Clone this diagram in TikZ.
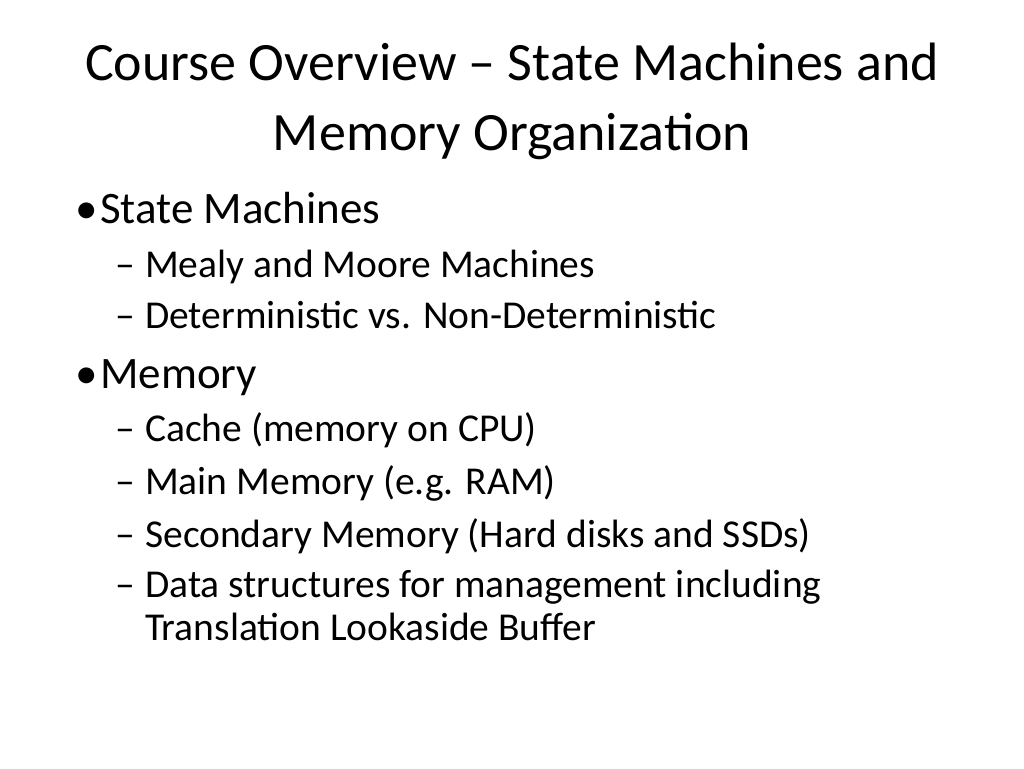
\documentclass[tikz,border=0pt]{standalone}
\usepackage{fontspec}
\setmainfont{Carlito}
\begin{document}
\begin{tikzpicture}[x=1pt,y=-1pt,
  ttl/.style={anchor=base,font=\fontsize{54}{60}\selectfont,inner sep=0},
  lone/.style={anchor=base west,font=\fontsize{45}{50}\selectfont,inner sep=0},
  ltwo/.style={anchor=base west,font=\fontsize{39.5}{44}\selectfont,inner sep=0}]
\useasboundingbox (0,0) rectangle (1024,768);
\node[ttl] (t1) at (512,80) {Course Overview – State Machines and};
\node[ttl] (t2) at (512,150) {Memory Organization};
\node[lone] (b1) at (75,223) {•};
\node[lone] (s1) at (100,223) {State Machines};
\node[ltwo] (d1) at (115,277) {–};
\node[ltwo] (s2) at (145,277) {Mealy and Moore Machines};
\node[ltwo] (d2) at (115,328) {–};
\node[ltwo] (s3) at (145,328) {Deterministic vs. Non-Deterministic};
\node[lone] (b2) at (75,388) {•};
\node[lone] (s4) at (100,388) {Memory};
\node[ltwo] (d3) at (115,441) {–};
\node[ltwo] (s5) at (145,441) {Cache (memory on CPU)};
\node[ltwo] (d4) at (115,494) {–};
\node[ltwo] (s6) at (145,494) {Main Memory (e.g. RAM)};
\node[ltwo] (d5) at (115,547) {–};
\node[ltwo] (s7) at (145,547) {Secondary Memory (Hard disks and SSDs)};
\node[ltwo] (d6) at (115,597) {–};
\node[ltwo] (s8) at (145,597) {Data structures for management including};
\node[ltwo] (s9) at (145,640) {Translation Lookaside Buffer};
\end{tikzpicture}
\end{document}
